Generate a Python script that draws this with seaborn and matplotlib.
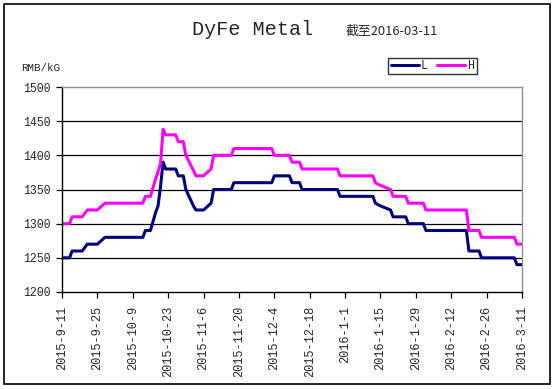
import matplotlib
matplotlib.use("Agg")
import matplotlib.pyplot as plt
import seaborn as sns
import pandas as pd
from matplotlib.patches import Rectangle

# price points (RMB/kG)
dates = ["2015-09-11", "2015-09-14", "2015-09-15", "2015-09-19", "2015-09-21",
         "2015-09-25", "2015-09-28", "2015-10-13", "2015-10-14", "2015-10-16",
         "2015-10-18", "2015-10-19", "2015-10-20", "2015-10-21", "2015-10-22",
         "2015-10-26", "2015-10-27", "2015-10-29", "2015-10-30", "2015-11-02",
         "2015-11-03", "2015-11-06", "2015-11-09", "2015-11-10", "2015-11-17",
         "2015-11-18", "2015-12-03", "2015-12-04", "2015-12-10", "2015-12-11",
         "2015-12-14", "2015-12-15", "2015-12-29", "2015-12-30", "2016-01-12",
         "2016-01-13", "2016-01-15", "2016-01-19", "2016-01-20", "2016-01-25",
         "2016-01-26", "2016-02-01", "2016-02-02", "2016-02-18", "2016-02-19",
         "2016-02-23", "2016-02-24", "2016-03-08", "2016-03-09", "2016-03-11"]
low = [1250, 1250, 1260, 1260, 1270, 1270, 1280, 1280, 1290, 1290,
       1316, 1326, 1355, 1390, 1380, 1380, 1370, 1370, 1350, 1326,
       1320, 1320, 1330, 1350, 1350, 1360, 1360, 1370, 1370, 1360,
       1360, 1350, 1350, 1340, 1340, 1330, 1326, 1320, 1310, 1310,
       1300, 1300, 1290, 1290, 1260, 1260, 1250, 1250, 1240, 1240]
high = [1300, 1300, 1310, 1310, 1320, 1320, 1330, 1330, 1340, 1340,
        1365, 1376, 1388, 1438, 1430, 1430, 1420, 1420, 1400, 1378,
        1370, 1370, 1380, 1400, 1400, 1410, 1410, 1400, 1400, 1390,
        1390, 1380, 1380, 1370, 1370, 1360, 1356, 1350, 1340, 1340,
        1330, 1330, 1320, 1320, 1290, 1290, 1280, 1280, 1270, 1270]

tick_dates = ["2015-09-11", "2015-09-25", "2015-10-09", "2015-10-23", "2015-11-06",
              "2015-11-20", "2015-12-04", "2015-12-18", "2016-01-01", "2016-01-15",
              "2016-01-29", "2016-02-12", "2016-02-26", "2016-03-11"]
tick_labels = ["2015-9-11", "2015-9-25", "2015-10-9", "2015-10-23", "2015-11-6",
               "2015-11-20", "2015-12-4", "2015-12-18", "2016-1-1", "2016-1-15",
               "2016-1-29", "2016-2-12", "2016-2-26", "2016-3-11"]
y_ticks = [1200, 1250, 1300, 1350, 1400, 1450, 1500]

sns.set_style("white")
mono = "Liberation Mono"

df = pd.DataFrame({"date": pd.to_datetime(dates), "L": low, "H": high})

fig = plt.figure(figsize=(5.55, 3.89), dpi=100)
ax = fig.add_axes([0.1117, 0.2494, 0.8288, 0.5269])

sns.lineplot(data=df, x="date", y="L", ax=ax, color="#000080", lw=2.2, label="L")
sns.lineplot(data=df, x="date", y="H", ax=ax, color="#ff00ff", lw=2.2, label="H")

ax.set_xlim(pd.Timestamp(tick_dates[0]), pd.Timestamp(tick_dates[-1]))
ax.set_ylim(1200, 1500)
ax.set_yticks(y_ticks)
ax.set_yticklabels([str(v) for v in y_ticks], fontfamily=mono, fontsize=8.3)
ax.set_xticks(pd.to_datetime(tick_dates))
ax.set_xticklabels(tick_labels, rotation=90, fontfamily=mono, fontsize=8.6,
                   va="top", ha="center")
ax.set_xlabel("")
ax.set_ylabel("")

# black gridlines inside the range only
for v in y_ticks[1:-1]:
    ax.axhline(v, color="black", lw=0.9, zorder=1)

ax.tick_params(axis="y", direction="out", length=4, width=0.9, color="black",
               left=True, pad=4)
ax.tick_params(axis="x", direction="out", length=4, width=0.9, color="black",
               bottom=True, pad=6)
for side in ["left", "bottom"]:
    ax.spines[side].set_color("black")
    ax.spines[side].set_linewidth(1.0)
for side in ["top", "right"]:
    ax.spines[side].set_color("#909090")
    ax.spines[side].set_linewidth(1.0)

fig.text(0.456, 0.923, "DyFe Metal", fontfamily=mono, fontsize=14.5,
         ha="center", va="center")
fig.text(0.623, 0.920, "截至2016-03-11", fontfamily=["Noto Sans CJK SC", "DejaVu Sans"],
         fontsize=9.3, ha="left", va="center")
fig.text(0.074, 0.825, "RMB/kG", fontfamily=mono, fontsize=7.8,
         ha="center", va="center")

leg = ax.legend(loc="center", bbox_to_anchor=(0.779, 0.830), bbox_transform=fig.transFigure,
                ncol=2, frameon=True, fancybox=False, edgecolor="black",
                prop={"family": mono, "size": 8.5}, handlelength=2.4,
                handletextpad=0.15, columnspacing=0.8, borderpad=0.2,
                borderaxespad=0)
leg.get_frame().set_linewidth(1.0)

fig.patches.append(Rectangle((0.007, 0.013), 0.984, 0.977, transform=fig.transFigure,
                             fill=False, edgecolor="black", lw=1.2))

fig.savefig("out.png", dpi=100)
